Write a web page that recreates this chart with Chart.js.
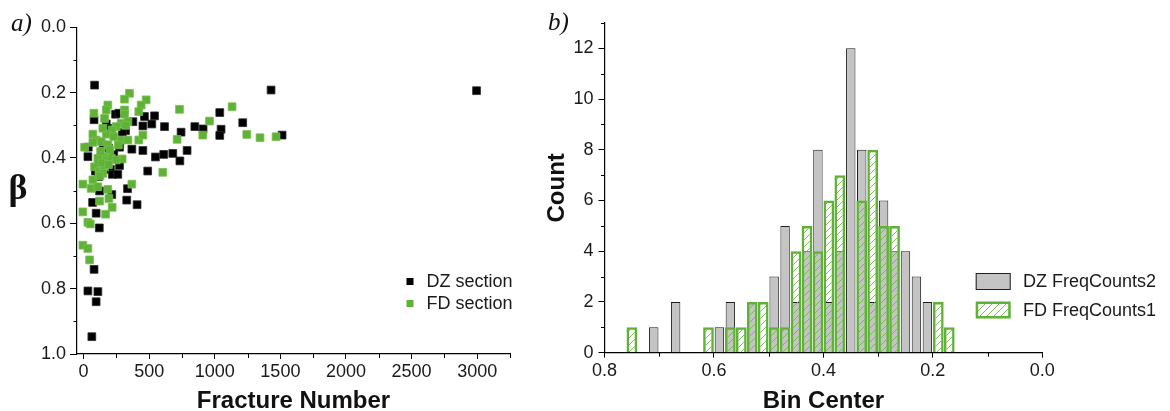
<!DOCTYPE html>
<html>
<head>
<meta charset="utf-8">
<script src="https://cdn.jsdelivr.net/npm/chart.js@4.4.1/dist/chart.umd.min.js"></script>
<style>
    html, body { margin: 0; padding: 0; background: #fff; }
    #wrap { position: relative; width: 1170px; height: 411px; }
    .panel { position: absolute; top: 0; height: 411px; }
    #left { left: 0; width: 540px; }
    #right { left: 540px; width: 630px; }
</style>
</head>
<body>
<div id="wrap">
    <div class="panel" id="left"><canvas id="scatterChart"></canvas></div>
    <div class="panel" id="right"><canvas id="histChart"></canvas></div>
</div>
<script>
// a) fracture number vs beta
const dzSection = [
    [84, 0.177], [1429, 0.192], [2995, 0.194], [80, 0.283], [244, 0.266], [269, 0.263],
    [464, 0.273], [541, 0.271], [173, 0.296], [185, 0.309], [320, 0.316], [295, 0.322],
    [210, 0.324], [376, 0.289], [452, 0.302], [520, 0.296], [617, 0.304], [743, 0.321],
    [848, 0.304], [911, 0.311], [1038, 0.261], [1048, 0.312], [1038, 0.331], [1213, 0.292],
    [1513, 0.330], [36, 0.367], [33, 0.396], [274, 0.367], [368, 0.373], [452, 0.377],
    [548, 0.397], [611, 0.389], [680, 0.386], [789, 0.377], [734, 0.409], [489, 0.440],
    [274, 0.423], [205, 0.435], [219, 0.450], [261, 0.450], [114, 0.457], [122, 0.501],
    [215, 0.512], [335, 0.494], [69, 0.536], [329, 0.529], [408, 0.543], [96, 0.569],
    [120, 0.614], [80, 0.741], [33, 0.807], [109, 0.809], [96, 0.840], [63, 0.947],
    [120, 0.410], [160, 0.400], [190, 0.370], [230, 0.390], [150, 0.360], [90, 0.440]
];
const fdSection = [
    [350, 0.202], [312, 0.220], [477, 0.222], [185, 0.238], [173, 0.253], [439, 0.238],
    [421, 0.258], [312, 0.253], [312, 0.266], [79, 0.263], [1132, 0.243], [731, 0.251],
    [960, 0.287], [909, 0.330], [713, 0.343], [604, 0.444], [368, 0.480], [287, 0.294],
    [249, 0.304], [218, 0.314], [338, 0.289], [160, 0.279], [173, 0.327], [71, 0.327],
    [147, 0.309], [96, 0.345], [71, 0.352], [135, 0.350], [287, 0.345], [338, 0.345],
    [421, 0.345], [452, 0.330], [8, 0.367], [185, 0.360], [160, 0.396], [109, 0.401],
    [84, 0.427], [117, 0.442], [173, 0.406], [211, 0.401], [294, 0.403], [249, 0.406],
    [160, 0.427], [147, 0.447], [-5, 0.480], [71, 0.467], [58, 0.493], [109, 0.488],
    [185, 0.496], [122, 0.532], [193, 0.524], [218, 0.551], [168, 0.572], [-5, 0.565],
    [33, 0.597], [51, 0.602], [-5, 0.667], [33, 0.677], [46, 0.712], [1244, 0.328],
    [1345, 0.338], [1467, 0.335], [130, 0.380], [200, 0.375], [140, 0.415], [230, 0.335],
    [265, 0.360], [190, 0.420], [125, 0.455], [320, 0.300]
];
const fractureTicks = [0, 500, 1000, 1500, 2000, 2500, 3000];
const fractureMinor = [250, 750, 1250, 1750, 2250, 2750, 3250];
const betaTicks = [0, 0.2, 0.4, 0.6, 0.8, 1.0];
const betaMinor = [0.1, 0.3, 0.5, 0.7, 0.9];

// b) histogram of beta
const binCenters = [0.75, 0.73, 0.71, 0.69, 0.67, 0.65, 0.63, 0.61, 0.59, 0.57, 0.55, 0.53, 0.51, 0.49, 0.47,
                    0.45, 0.43, 0.41, 0.39, 0.37, 0.35, 0.33, 0.31, 0.29, 0.27, 0.25, 0.23, 0.21, 0.19, 0.17];
const dzCounts = [0, 0, 1, 0, 2, 0, 0, 0, 1, 2, 0, 2, 0, 3, 5,
                  2, 4, 8, 2, 4, 12, 8, 2, 6, 4, 4, 3, 2, 0, 0];
const fdCounts = [1, 0, 0, 0, 0, 0, 0, 1, 0, 1, 1, 2, 2, 1, 1,
                  4, 5, 4, 6, 7, 0, 6, 8, 5, 5, 0, 0, 0, 2, 1];
const binTicks = [0.8, 0.6, 0.4, 0.2, 0.0];
const binMinor = [0.7, 0.5, 0.3, 0.1];
const countTicks = [0, 2, 4, 6, 8, 10, 12];
const countMinor = [1, 3, 5, 7, 9, 11, 13];

Chart.defaults.font.family = "'Liberation Sans', Arial, sans-serif";
Chart.defaults.color = "#1a1a1a";

const GREEN = "#5fb236";

function makeHatch(color) {
    const c = document.createElement("canvas");
    c.width = 7;
    c.height = 7;
    const g = c.getContext("2d");
    g.strokeStyle = color;
    g.lineWidth = 1;
    g.beginPath();
    g.moveTo(-1, 8); g.lineTo(8, -1);
    g.moveTo(-1, 1); g.lineTo(1, -1);
    g.moveTo(6, 8); g.lineTo(8, 6);
    g.stroke();
    return g.createPattern(c, "repeat");
}
const hatch = makeHatch("rgba(110,185,70,0.9)");

// minor ticks, panel letters and the inside legends
const decor = {
    id: "decor",
    afterDraw(chart, args, opts) {
        const ctx = chart.ctx;
        const area = chart.chartArea;
        ctx.save();
        ctx.strokeStyle = "#000";
        ctx.lineWidth = 1;
        (opts.minor || []).forEach(m => {
            const scale = chart.scales[m.axis];
            m.values.forEach(v => {
                const p = Math.round(scale.getPixelForValue(v)) + 0.5;
                ctx.beginPath();
                if (scale.isHorizontal()) {
                    ctx.moveTo(p, area.bottom);
                    ctx.lineTo(p, area.bottom + m.length);
                } else {
                    ctx.moveTo(area.left, p);
                    ctx.lineTo(area.left - m.length, p);
                }
                ctx.stroke();
            });
        });

        (opts.texts || []).forEach(t => {
            ctx.font = t.font;
            ctx.fillStyle = "#111";
            ctx.textAlign = t.align || "left";
            ctx.textBaseline = t.baseline || "alphabetic";
            ctx.fillText(t.text, t.x, t.y);
        });

        const lg = opts.legend;
        if (lg) {
            chart.data.datasets.forEach((ds, i) => {
                const cy = lg.y + i * lg.gap;
                if (lg.kind === "point") {
                    ctx.fillStyle = ds.pointBackgroundColor;
                    ctx.fillRect(lg.x - 3.5, cy - 3.5, 7, 7);
                } else {
                    ctx.fillStyle = ds.backgroundColor;
                    ctx.fillRect(lg.x, cy - 8.5, 35, 17);
                    ctx.strokeStyle = ds.borderColor;
                    ctx.lineWidth = ds.borderWidth;
                    ctx.strokeRect(lg.x + ds.borderWidth / 2, cy - 8.5 + ds.borderWidth / 2,
                                   35 - ds.borderWidth, 17 - ds.borderWidth);
                }
                ctx.fillStyle = "#1a1a1a";
                ctx.font = "18px 'Liberation Sans', Arial";
                ctx.textAlign = "left";
                ctx.textBaseline = "middle";
                ctx.fillText(ds.label, lg.textX, cy + 1);
            });
        }
        ctx.restore();
    }
};

const tickFont = { size: 18 };

const scatterChart = new Chart(document.getElementById("scatterChart"), {
    type: "scatter",
    data: {
        datasets: [
            {
                label: "DZ section",
                data: dzSection.map(p => ({ x: p[0], y: p[1] })),
                pointStyle: "rect",
                pointRadius: 5.5,
                pointBackgroundColor: "#000",
                pointBorderColor: "#2a2a2a",
                pointBorderWidth: 0.8,
                clip: false,
                order: 2
            },
            {
                label: "FD section",
                data: fdSection.map(p => ({ x: p[0], y: p[1] })),
                pointStyle: "rect",
                pointRadius: 5.5,
                pointBackgroundColor: GREEN,
                pointBorderColor: "#78c052",
                pointBorderWidth: 0.8,
                clip: false,
                order: 1
            }
        ]
    },
    options: {
        responsive: true,
        maintainAspectRatio: false,
        animation: false,
        layout: { padding: { left: 0, top: 27.3, right: 30, bottom: 0 } },
        plugins: {
            legend: { display: false },
            tooltip: { enabled: false },
            decor: {
                minor: [
                    { axis: "x", values: fractureMinor, length: 4 },
                    { axis: "y", values: betaMinor, length: 3.5 }
                ],
                texts: [
                    { text: "a)", x: 11, y: 31, font: "italic 25px 'Liberation Serif', serif" },
                    { text: "β", x: 18, y: 190, font: "bold 36px 'Liberation Serif', serif", align: "center", baseline: "middle" }
                ],
                legend: { kind: "point", x: 410, y: 281.5, gap: 22, textX: 426.5 }
            }
        },
        scales: {
            x: {
                type: "linear",
                min: -50,
                max: 3250,
                afterBuildTicks: s => { s.ticks = fractureTicks.map(v => ({ value: v })); },
                afterFit: s => { s.height = 57; },
                border: { color: "#000", width: 1.2 },
                grid: { drawOnChartArea: false, tickLength: 5, color: "#000" },
                ticks: { padding: 2, font: tickFont, maxRotation: 0, autoSkip: false, callback: v => String(v) },
                title: {
                    display: true,
                    text: "Fracture Number",
                    font: { size: 24, weight: "bold", lineHeight: 0.8 },
                    padding: 0,
                    color: "#111"
                }
            },
            y: {
                min: 0,
                max: 1,
                reverse: true,
                afterBuildTicks: s => { s.ticks = betaTicks.map(v => ({ value: v })); },
                afterFit: s => { s.width = 77; },
                border: { color: "#000", width: 1.2 },
                grid: { drawOnChartArea: false, tickLength: 7, color: "#000" },
                ticks: { padding: 4, font: tickFont, callback: v => v.toFixed(1) }
            }
        }
    },
    plugins: [decor]
});

const histChart = new Chart(document.getElementById("histChart"), {
    type: "bar",
    data: {
        datasets: [
            {
                label: "DZ FreqCounts2",
                data: binCenters.map((c, i) => ({ x: c, y: dzCounts[i] || null })),
                backgroundColor: "#c4c4c4",
                borderColor: "#1e1e1e",
                borderWidth: 1,
                barPercentage: 0.86,
                categoryPercentage: 1,
                grouped: false,
                order: 2
            },
            {
                label: "FD FreqCounts1",
                data: binCenters.map((c, i) => ({ x: c, y: fdCounts[i] || null })),
                backgroundColor: hatch,
                borderColor: GREEN,
                borderWidth: 2.5,
                barPercentage: 0.98,
                categoryPercentage: 1,
                grouped: false,
                order: 1
            }
        ]
    },
    options: {
        responsive: true,
        maintainAspectRatio: false,
        animation: false,
        layout: { padding: { left: 0, top: 23, right: 127.7, bottom: 0 } },
        plugins: {
            legend: { display: false },
            tooltip: { enabled: false },
            decor: {
                minor: [
                    { axis: "x", values: binMinor, length: 4 },
                    { axis: "y", values: countMinor, length: 3.5 }
                ],
                texts: [
                    { text: "b)", x: 8, y: 30, font: "italic 25px 'Liberation Serif', serif" }
                ],
                legend: { kind: "box", x: 435.7, y: 281.5, gap: 28.5, textX: 483 }
            }
        },
        scales: {
            x: {
                type: "linear",
                min: 0,
                max: 0.8,
                reverse: true,
                offset: false,
                afterBuildTicks: s => { s.ticks = binTicks.map(v => ({ value: v })); },
                afterFit: s => { s.height = 58.3; },
                border: { color: "#000", width: 1.2 },
                grid: { drawOnChartArea: false, offset: false, tickLength: 5, color: "#000" },
                ticks: { padding: 2.5, font: tickFont, maxRotation: 0, autoSkip: false, callback: v => v.toFixed(1) },
                title: {
                    display: true,
                    text: "Bin Center",
                    font: { size: 24, weight: "bold", lineHeight: 0.8 },
                    padding: 0,
                    color: "#111"
                }
            },
            y: {
                min: 0,
                max: 13,
                afterBuildTicks: s => { s.ticks = countTicks.map(v => ({ value: v })); },
                afterFit: s => { s.width = 64.5; },
                border: { color: "#000", width: 1.2 },
                grid: { drawOnChartArea: false, tickLength: 6, color: "#000" },
                ticks: { padding: 5, font: tickFont },
                title: {
                    display: true,
                    text: "Count",
                    font: { size: 24, weight: "bold" },
                    padding: { top: 2.6, bottom: 0 },
                    color: "#111"
                }
            }
        }
    },
    plugins: [decor]
});
</script>
</body>
</html>
